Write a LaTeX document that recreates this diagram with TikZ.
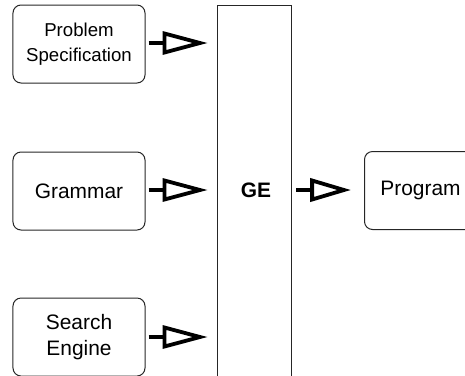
\documentclass[tikz,border=0pt]{standalone}
\usepackage{fontspec}
\setmainfont{Liberation Sans}
\begin{document}
\begin{tikzpicture}[x=1bp,y=-1bp,
  box/.style={draw=black!85,line width=1bp,rounded corners=8bp,minimum width=132bp,minimum height=78bp,inner sep=0pt,align=center,font=\fontsize{21}{26}\selectfont},
  bar/.style={draw=black!85,line width=1.1bp,minimum width=74bp,minimum height=378bp,inner sep=0pt},
  stub/.style={line width=3.8bp},
  head/.style={line width=3.8bp,line join=miter,miter limit=20}]
\useasboundingbox (0,0) rectangle (465,375);
\node[box,font=\fontsize{18.7}{25}\selectfont] (prob) at (79,44) {Problem\\Specification};
\node[box] (gram) at (79,191) {Grammar};
\node[box] (srch) at (79,337) {Search\\Engine};
\node[bar,anchor=north west] (ge) at (217,5) {};
\node[font=\fontsize{21}{25}\selectfont\bfseries] (getxt) at (256,190) {GE};
\node[box,anchor=west,minimum width=112bp] (prog) at (364,190.5) {Program};
\foreach \n/\yy in {prob/43,gram/190,srch/337}{
  \coordinate (s\n) at ([xshift=3bp]\n.east |- 0,\yy);
  \coordinate (t\n) at (ge.west |- 0,\yy);
  \draw[stub] (s\n) -- ([xshift=16bp]s\n);
  \draw[head] ([xshift=16bp,yshift=9.5bp]s\n) -- ([xshift=-17bp]t\n) -- ([xshift=16bp,yshift=-9.5bp]s\n) -- cycle;
}
\coordinate (sge) at ([xshift=4bp]ge.east |- getxt);
\coordinate (tpr) at (prog.west |- getxt);
\draw[stub] (sge) -- ([xshift=16bp]sge);
\draw[head] ([xshift=16bp,yshift=9.5bp]sge) -- ([xshift=-20bp]tpr) -- ([xshift=16bp,yshift=-9.5bp]sge) -- cycle;
\end{tikzpicture}
\end{document}
